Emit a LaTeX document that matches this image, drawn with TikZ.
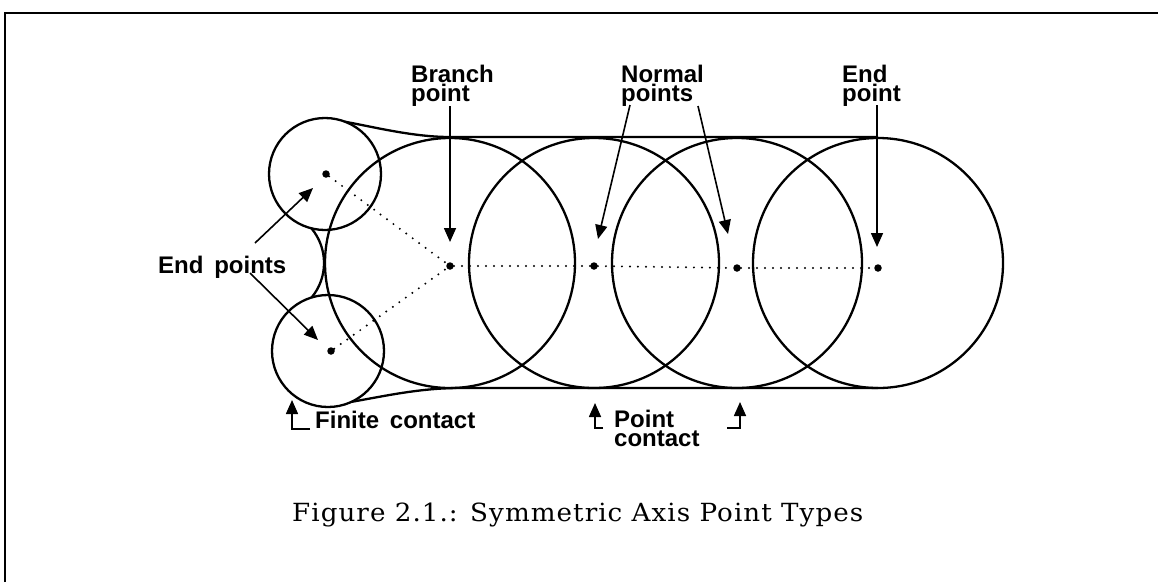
\documentclass[tikz,border=0pt]{standalone}
\usepackage{fontspec}
\newfontfamily\labelfont{Liberation Sans}
\newfontfamily\captionfont{DejaVu Serif}[LetterSpace=4]
\usetikzlibrary{arrows.meta}
\newcommand\widewordspace{\spaceskip=0.45em\relax}

\tikzset{
  outline/.style={line width=2.3pt, line join=round},
  pointer/.style={line width=1.6pt, -{Triangle[length=14pt,width=12pt]}},
  axisline/.style={line width=2.2pt, dash pattern=on 0pt off 8pt, line cap=round},
  axisdot/.style={circle, fill, inner sep=0pt, minimum size=7.5pt},
  lbl/.style={font=\labelfont\bfseries\fontsize{24}{18.5}\selectfont, execute at begin node=\widewordspace, inner sep=0pt},
  frameline/.style={line width=2.4pt},
}

\begin{document}
\begin{tikzpicture}[x=1pt,y=-1pt]
\useasboundingbox (0,0) rectangle (1158,582);

% frame
\draw[frameline] (5,582) -- (5,13) -- (1158,13);

% maximal disks
\draw[outline] (325,174) circle[radius=56pt];
\draw[outline] (328,351) circle[radius=56pt];
\draw[outline] (450,263) circle[radius=125pt];
\draw[outline] (594,263) circle[radius=125pt];
\draw[outline] (737,263) circle[radius=125pt];
\draw[outline] (878,263) circle[radius=125pt];

% shape boundary
\draw[outline] (311.4,228.3) arc[start angle=40, end angle=-40, radius=54pt];
\draw[outline] (345,121.7) .. controls (378,128) and (415,137) .. (450,137) -- (878,137);
\draw[outline] (351.7,401.8) .. controls (385,396) and (420,388) .. (460,388) -- (878,388);

% symmetric axis points
\node[axisdot] (e1) at (326,174) {};
\node[axisdot] (e2) at (331,351) {};
\node[axisdot] (b)  at (450,266) {};
\node[axisdot] (n1) at (594,266) {};
\node[axisdot] (n2) at (737,268) {};
\node[axisdot] (e3) at (878,268) {};

\draw[axisline] (e1) -- (b);
\draw[axisline] (e2) -- (b);
\draw[axisline] (b) -- (n1) -- (n2) -- (e3);

% labels
\node[lbl, anchor=north west, align=left] (lbranch) at (411,65) {Branch\\point};
\node[lbl, anchor=north west, align=left] (lnormal) at (621,65) {Normal\\points};
\node[lbl, anchor=north west, align=left] (lend) at (842,65) {End\\point};
\node[lbl, anchor=base west] (lends) at (158,273) {End points};
\node[lbl, anchor=base west] (lfinite) at (315,428) {Finite contact};
\node[lbl, anchor=north west, align=left] (lpoint) at (614,410) {Point\\contact};

% arrow end points
\coordinate (bt) at (450,106);  \coordinate (bh) at (450,242);
\coordinate (n1t) at (630,105); \coordinate (n1h) at (598,239);
\coordinate (n2t) at (698,106); \coordinate (n2h) at (728,234);
\coordinate (et) at (877,105);  \coordinate (eh) at (877,247);
\coordinate (ut) at (255,243);  \coordinate (uh) at (313,188);
\coordinate (lt) at (250,273);  \coordinate (lh) at (318,340);
\coordinate (ff) at (310,429);  \coordinate (fc) at (292,429);  \coordinate (fh) at (292,400);
\coordinate (pf) at (603,428);  \coordinate (pc) at (595,428);  \coordinate (ph) at (595,403);
\coordinate (qf) at (727,428);  \coordinate (qc) at (740,428);  \coordinate (qh) at (740,402);

\draw[pointer] (bt) -- (bh);
\draw[pointer] (n1t) -- (n1h);
\draw[pointer] (n2t) -- (n2h);
\draw[pointer] (et) -- (eh);
\draw[pointer] (ut) -- (uh);
\draw[pointer] (lt) -- (lh);
\draw[pointer] (ff) -- (fc) -- (fh);
\draw[pointer] (pf) -- (pc) -- (ph);
\draw[pointer] (qf) -- (qc) -- (qh);

% caption, stretched to the width of the figure text block
\node[anchor=base west, inner sep=0pt, font=\captionfont\fontsize{25}{30}\selectfont] (cap) at (292,521) {\resizebox{571pt}{\height}{Figure 2.1.: Symmetric Axis Point Types}};
\end{tikzpicture}
\end{document}
